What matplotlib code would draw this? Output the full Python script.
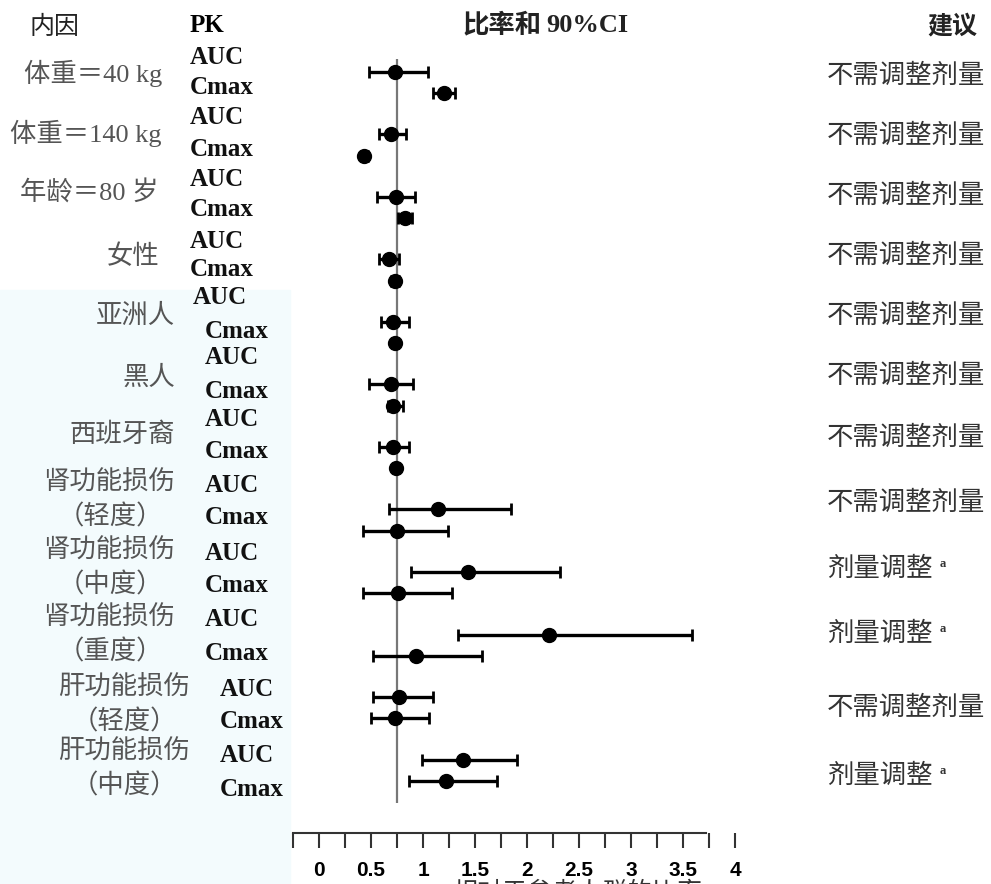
import matplotlib
matplotlib.use("Agg")
import matplotlib.pyplot as plt
from matplotlib.patches import Rectangle
import numpy as np

# 数据：比率和 90%CI（每组 AUC / Cmax）
factors = ["体重＝40 kg", "体重＝140 kg", "年龄＝80 岁", "女性", "亚洲人", "黑人",
           "西班牙裔", "肾功能损伤\n（轻度）", "肾功能损伤\n（中度）", "肾功能损伤\n（重度）",
           "肝功能损伤\n（轻度）", "肝功能损伤\n（中度）"]
auc_ratio = [0.73, 0.69, 0.74, 0.67, 0.71, 0.69, 0.71, 1.14, 1.43, 2.21, 0.77, 1.38]
auc_low = [0.48, 0.58, 0.56, 0.58, 0.60, 0.48, 0.58, 0.67, 0.88, 1.34, 0.52, 0.99]
auc_high = [1.05, 0.84, 0.92, 0.77, 0.87, 0.90, 0.87, 1.85, 2.32, 3.59, 1.10, 1.90]
cmax_ratio = [1.20, 0.43, 0.83, 0.73, 0.73, 0.71, 0.74, 0.75, 0.76, 0.93, 0.73, 1.22]
cmax_low = [1.10, 0.40, 0.76, 0.69, 0.70, 0.66, 0.71, 0.42, 0.42, 0.52, 0.50, 0.87]
cmax_high = [1.31, 0.47, 0.89, 0.77, 0.76, 0.81, 0.77, 1.24, 1.28, 1.57, 1.06, 1.71]
advice = ["不需调整剂量"] * 8 + ["剂量调整", "剂量调整", "不需调整剂量", "剂量调整"]
footnote = [False] * 8 + [True, True, False, True]
ref_value = 0.75
tick_values = np.arange(-0.25, 4.01, 0.25)
label_values = [0, 0.5, 1, 1.5, 2, 2.5, 3, 3.5, 4]

cjk = ["Noto Sans CJK SC", "DejaVu Sans"]
mixed = ["Liberation Serif", "Noto Sans CJK SC"]
serif = ["Liberation Serif", "DejaVu Serif"]

W, H = 991, 884
fig = plt.figure(figsize=(W / 100, H / 100), dpi=100)

# 文本层：像素坐标
tax = fig.add_axes([0, 0, 1, 1])
tax.set_xlim(0, W)
tax.set_ylim(H, 0)
tax.axis("off")
tax.add_patch(Rectangle((0, 290), 290, H - 290, color="#f3fbfd", zorder=0))

# 表头
tax.text(55, 27, "内因", family=cjk, fontsize=18, ha="center", va="center", color="#222")
tax.text(190, 25, "PK", family=serif, fontweight="bold", fontsize=18, ha="left", va="center")
tax.text(463, 25, "比率和", family=cjk, fontweight="bold", fontsize=19, ha="left", va="center", color="#222")
tax.text(546, 25, "90%CI", family=serif, fontweight="bold", fontsize=19, ha="left", va="center", color="#222")
tax.text(977, 27, "建议", family=cjk, fontweight="bold", fontsize=18, ha="right", va="center", color="#222")

# 左列标签布局（像素）
factor_x = [162, 162, 158, 160, 175, 175, 175, 175, 175, 175, 190, 190]
factor_y = [73, 133, 193, 257, 316, 378, 435, 483, 551, 618, 688, 752]
sub_x = [163, 163, 163, 177, 177]
sub_dy = 34
pk_x = [190, 190, 190, 190, 193, 205, 205, 205, 205, 205, 220, 220]
auc_y = [58, 118, 180, 241, 298, 358, 420, 486, 553, 620, 690, 756]
cmax_y = [88, 149, 210, 270, 332, 392, 452, 517, 585, 653, 721, 790]
advice_y = [75, 135, 195, 255, 315, 375, 437, 502, 568, 633, 707, 775]

k = 0
for i, name in enumerate(factors):
    parts = name.split("\n")
    tax.text(factor_x[i], factor_y[i], parts[0], family=mixed, fontsize=19,
             ha="right", va="center", color="#555")
    if len(parts) > 1:
        tax.text(sub_x[k], factor_y[i] + sub_dy, parts[1], family=cjk, fontsize=19,
                 ha="right", va="center", color="#555")
        k += 1
    tax.text(pk_x[i], auc_y[i], "AUC", family=serif, fontweight="bold", fontsize=18,
             ha="left", va="center", color="#111")
    cx = pk_x[i] + 12 if i == 4 else pk_x[i]
    tax.text(cx, cmax_y[i], "Cmax", family=serif, fontweight="bold", fontsize=18,
             ha="left", va="center", color="#111")
    tax.text(827, advice_y[i], advice[i], family=cjk, fontsize=19,
             ha="left", va="center", color="#333")
    if footnote[i]:
        tax.text(940, advice_y[i] - 4, "a", family=serif, fontweight="bold", fontsize=9,
                 ha="left", va="center", color="#333")

# 横轴标题（底部被截）
tax.text(577, 893, "相对于参考人群的比率", family=cjk, fontsize=18, ha="center",
         va="center", color="#333", clip_on=False)

# 数据层
ax = fig.add_axes([292 / W, (H - 833) / H, (736 - 292) / W, 833 / H])
ax.patch.set_alpha(0)
ax.set_xlim(-0.26, 4.01)
ax.set_ylim(12.176, -1.152)

y_auc = np.arange(len(factors))
y_cmax = y_auc + 0.34
for y, r, lo, hi in [(y_auc, auc_ratio, auc_low, auc_high),
                     (y_cmax, cmax_ratio, cmax_low, cmax_high)]:
    r = np.array(r)
    err = [r - np.array(lo), np.array(hi) - r]
    ax.errorbar(r, y, xerr=err, fmt="o", color="black", ms=10, elinewidth=2.4,
                capsize=4, capthick=2, zorder=3)

ax.vlines(ref_value, -0.2, 11.7, color="#777", lw=1.6, zorder=2)

for s in ["top", "right", "left"]:
    ax.spines[s].set_visible(False)
ax.spines["bottom"].set_bounds(-0.25, 3.72)
ax.spines["bottom"].set_linewidth(1.5)
ax.spines["bottom"].set_color("#333")
ax.set_yticks([])
ax.set_xticks(tick_values)
ax.set_xticklabels(["%g" % v if any(abs(v - t) < 1e-9 for t in label_values) else ""
                    for v in tick_values])
ax.tick_params(axis="x", direction="out", length=11, width=1.5, color="#333", pad=9)
for lab in ax.get_xticklabels():
    lab.set_family(["Liberation Sans", "DejaVu Sans"])
    lab.set_fontweight("bold")
    lab.set_fontsize(15)

fig.savefig("out.png", dpi=100)
